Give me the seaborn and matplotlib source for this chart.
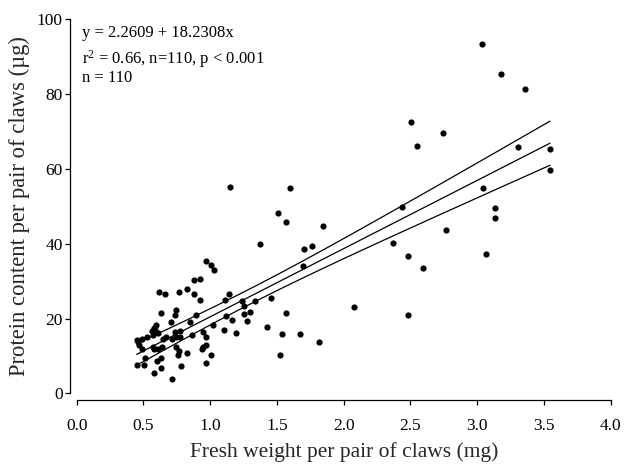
import numpy as np
import pandas as pd
import matplotlib
matplotlib.use("Agg")
import matplotlib.pyplot as plt
import seaborn as sns

# Fresh weight (mg) and protein content (µg) per pair of claws
fresh_weight = [
    3.037, 3.178, 3.357, 2.505, 2.746, 2.547, 3.307, 3.545, 3.545, 3.046,
    2.435, 3.136, 3.136, 2.766, 2.366, 2.478, 3.066, 2.597, 2.478,
    1.596, 1.507, 1.566, 1.844, 1.375, 1.705, 1.765, 1.695, 2.075, 1.455,
    1.335, 1.566, 1.295, 1.425, 1.536, 1.675, 1.817, 1.526, 1.256, 1.256,
    1.276, 1.236, 1.144, 1.114, 1.119, 1.164, 1.107, 1.196, 1.151,
    0.965, 1.005, 1.025, 0.876, 0.925, 0.617, 0.664, 0.766, 0.826, 0.876,
    0.925, 0.747, 0.734, 0.630, 0.709, 0.896, 0.851, 1.019,
    0.734, 0.771, 0.776, 0.747, 0.672, 0.647, 0.717, 0.866, 0.945, 0.965,
    0.642, 0.747, 0.766, 0.945, 0.965, 0.756, 0.826, 1.007, 0.635, 0.635,
    0.784, 0.965, 0.717,
    0.597, 0.580, 0.565, 0.610, 0.449, 0.461, 0.486, 0.523, 0.572, 0.580,
    0.486, 0.510, 0.449, 0.505, 0.605, 0.580,
    0.940, 0.590, 0.575, 0.610, 0.470,
]
protein = [
    93.5, 85.4, 81.5, 72.5, 69.5, 66.1, 65.9, 65.3, 59.7, 55.0,
    49.9, 49.5, 47.0, 43.8, 40.2, 36.8, 37.2, 33.6, 20.9,
    54.8, 48.1, 45.8, 44.8, 40.0, 38.5, 39.4, 34.0, 23.2, 25.6,
    24.7, 21.6, 21.8, 17.8, 15.9, 15.9, 13.7, 10.3, 23.3, 21.2,
    19.4, 24.7, 26.5, 24.9, 20.7, 19.6, 16.9, 16.1, 55.3,
    35.3, 34.4, 32.9, 30.3, 30.5, 27.0, 26.7, 27.2, 27.8, 26.7,
    24.9, 22.4, 20.9, 21.4, 19.2, 20.9, 19.2, 18.3,
    16.5, 16.7, 15.1, 15.1, 15.0, 14.5, 14.5, 15.6, 16.5, 15.0,
    12.5, 12.3, 11.4, 12.5, 12.9, 10.3, 10.7, 10.3, 9.4, 6.7,
    7.3, 8.1, 3.8,
    18.3, 17.4, 16.7, 16.1, 14.3, 13.8, 14.5, 15.0, 12.5, 11.8,
    11.8, 9.4, 7.6, 7.6, 8.7, 5.4,
    11.9, 17.0, 15.6, 11.8, 13.0,
]

# Fitted regression reported on the chart
intercept = 2.2609
slope = 18.2308
stats_lines = [
    "y = 2.2609 + 18.2308x",
    r"r$^2$ = 0.66, n=110, p < 0.001",
    "n = 110",
]
x_ticks = [0.0, 0.5, 1.0, 1.5, 2.0, 2.5, 3.0, 3.5, 4.0]
y_ticks = [0, 20, 40, 60, 80, 100]

df = pd.DataFrame({"weight": fresh_weight, "protein": protein})

sns.set_style("ticks")
plt.rcParams["font.family"] = ["Liberation Serif", "DejaVu Serif"]
plt.rcParams["mathtext.fontset"] = "custom"
plt.rcParams["mathtext.rm"] = "Liberation Serif"
plt.rcParams["mathtext.it"] = "Liberation Serif:italic"

fig = plt.figure(figsize=(6.24, 4.65), dpi=100)
ax = fig.add_axes([0.1229, 0.1538, 0.8559, 0.8047])

sns.scatterplot(data=df, x="weight", y="protein", ax=ax, color="black",
                s=20, linewidth=0, zorder=3)

# Regression line with 95% confidence limits of the mean
x = df["weight"].to_numpy()
y = df["protein"].to_numpy()
n = len(x)
resid = y - (intercept + slope * x)
s_err = np.sqrt(np.sum(resid ** 2) / (n - 2))
sxx = np.sum((x - x.mean()) ** 2)
t_crit = 1.982
xg = np.linspace(x.min(), x.max(), 200)
yg = intercept + slope * xg
half = t_crit * s_err * np.sqrt(1.0 / n + (xg - x.mean()) ** 2 / sxx)
for curve in (yg, yg + half, yg - half):
    ax.plot(xg, curve, color="black", linewidth=0.9, zorder=2)

ax.set_xlim(0, 4)
ax.set_ylim(0, 100)
ax.set_xticks(x_ticks)
ax.set_xticklabels([f"{v:.1f}" for v in x_ticks])
ax.set_yticks(y_ticks)
ax.tick_params(labelsize=12.5, length=3.6, width=0.9, color="black",
               labelcolor="black")
ax.tick_params(axis="x", pad=9)
ax.tick_params(axis="y", pad=1.5)
for sp in ("left", "bottom"):
    ax.spines[sp].set_linewidth(0.9)
    ax.spines[sp].set_color("black")
sns.despine(ax=ax, offset=5)

ax.set_xlabel("Fresh weight per pair of claws (mg)", fontsize=15.5, labelpad=6)
ax.set_ylabel("Protein content per pair of claws (µg)", fontsize=16.3, labelpad=5)

for txt, yv in zip(stats_lines, [95.3, 88.1, 83.3]):
    ax.text(0.04, yv, txt, fontsize=12, va="baseline", ha="left", color="black")

fig.savefig("out.png", dpi=100)
